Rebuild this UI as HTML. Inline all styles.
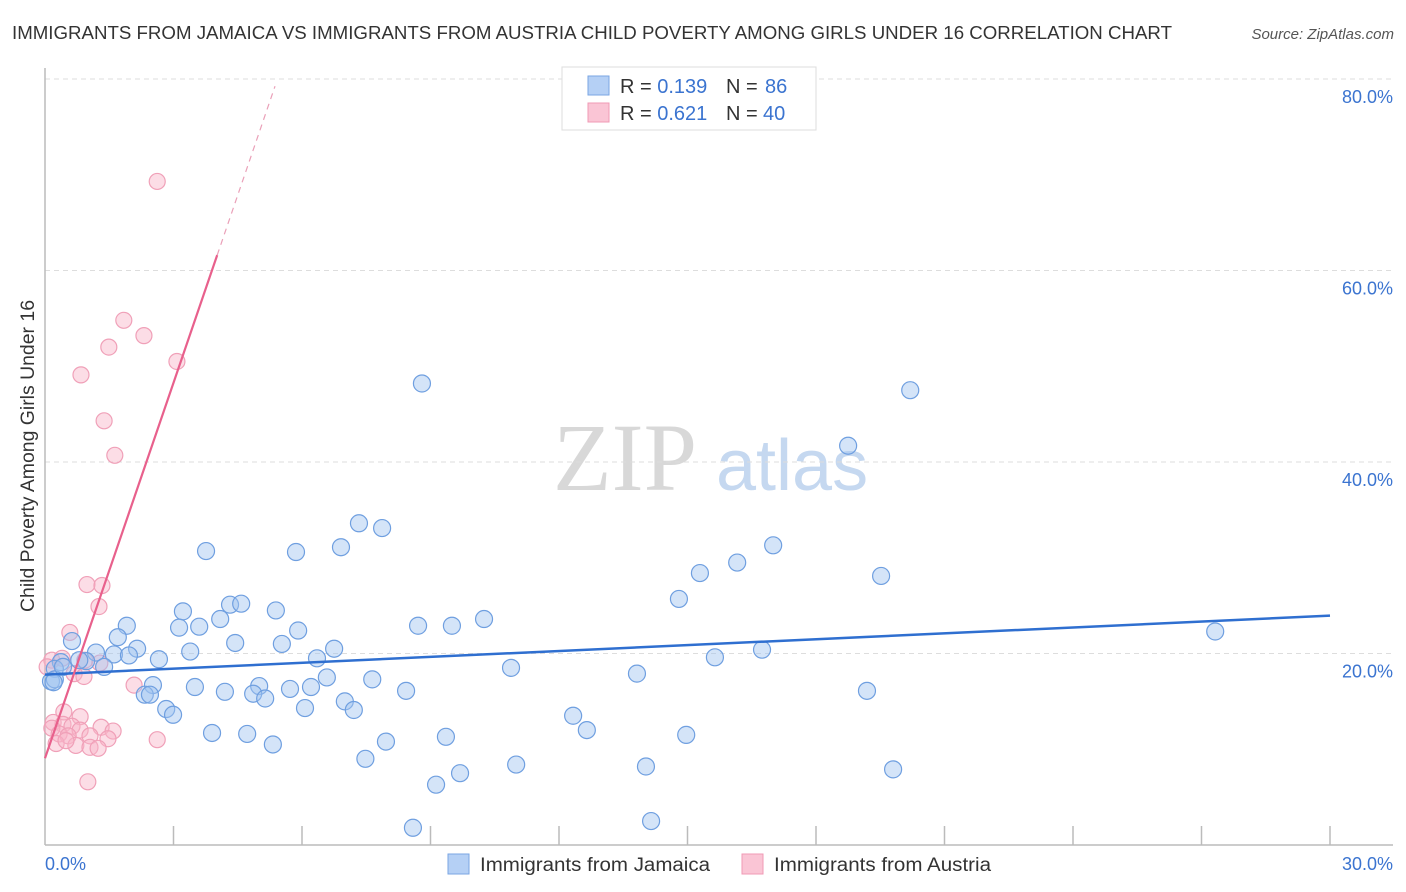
<!DOCTYPE html>
<html><head><meta charset="utf-8"><style>
body{margin:0;background:#fff;font-family:"Liberation Sans",sans-serif;}
svg{display:block}
</style></head><body>
<svg id="chart" width="1406" height="892" viewBox="0 0 1406 892" xmlns="http://www.w3.org/2000/svg">
<text x="12" y="39" font-size="18" fill="#333" textLength="1160" lengthAdjust="spacingAndGlyphs">IMMIGRANTS FROM JAMAICA VS IMMIGRANTS FROM AUSTRIA CHILD POVERTY AMONG GIRLS UNDER 16 CORRELATION CHART</text>
<text x="1394" y="39" font-size="15" fill="#555" font-style="italic" text-anchor="end">Source: ZipAtlas.com</text>
<g>
<text x="553" y="490" font-size="96" fill="#d8d8d8" font-family="Liberation Serif,serif">ZIP</text>
<text x="716" y="490" font-size="72" fill="#c5d8f0">atlas</text>
</g>
<g id="grid"></g>
<g id="axes"></g>
<g id="pts"></g>
<g id="lines"></g>
<text transform="translate(34,456) rotate(-90)" font-size="19" fill="#333" text-anchor="middle" textLength="312" lengthAdjust="spacingAndGlyphs">Child Poverty Among Girls Under 16</text>
<g>
<rect x="562" y="67" width="254" height="63" fill="#fff" stroke="#ddd"/>
<rect x="588" y="76" width="21" height="19" fill="#b5d0f5" stroke="#7aa6e3"/>
<rect x="588" y="103" width="21" height="19" fill="#fac5d5" stroke="#f09ab5"/>
<text x="620" y="93" font-size="20" fill="#333">R = <tspan fill="#3b74d0">0.139</tspan></text>
<text x="726" y="93" font-size="20" fill="#333">N = <tspan x="765" fill="#3b74d0">86</tspan></text>
<text x="620" y="120" font-size="20" fill="#333">R = <tspan fill="#3b74d0">0.621</tspan></text>
<text x="726" y="120" font-size="20" fill="#333">N = <tspan x="763" fill="#3b74d0">40</tspan></text>
</g>
<g>
<rect x="448" y="854" width="21" height="20" fill="#b5d0f5" stroke="#7aa6e3"/>
<text x="480" y="871" font-size="19" fill="#333" textLength="230" lengthAdjust="spacingAndGlyphs">Immigrants from Jamaica</text>
<rect x="742" y="854" width="21" height="20" fill="#fac5d5" stroke="#f09ab5"/>
<text x="774" y="871" font-size="19" fill="#333" textLength="217" lengthAdjust="spacingAndGlyphs">Immigrants from Austria</text>
</g>
</svg>
<script>
const yTicks=[20,40,60,80];
const xTickCount=10;
const jamX=[8.80,20.20,18.75,7.33,7.87,3.76,5.86,6.91,17.0,16.16,15.29,19.52,14.80,4.32,4.58,3.22,5.39,4.09,10.25,1.91,3.13,3.60,5.91,8.71,9.50,27.32,1.70,0.63,4.44,5.53,2.15,3.39,6.75,16.74,1.19,1.61,1.96,15.64,2.66,6.35,0.96,0.37,1.38,10.88,0.23,13.82,6.58,7.64,0.14,0.23,2.52,3.50,5.00,5.72,6.21,4.20,4.86,8.43,19.19,2.33,2.45,5.14,7.00,6.07,2.83,2.99,7.21,12.33,12.65,3.90,4.72,9.36,14.97,5.32,7.96,7.48,11.0,14.03,9.69,19.80,9.13,8.59,14.15,0.2,0.42,0.8];
const jamY=[48.2,47.5,41.7,33.6,33.1,30.7,30.6,31.1,31.3,29.5,28.4,28.1,25.7,25.1,25.2,24.4,24.5,23.6,23.6,22.9,22.7,22.8,22.4,22.9,22.9,22.3,21.7,21.3,21.1,21.0,20.5,20.2,20.5,20.4,20.1,19.9,19.8,19.6,19.4,19.5,19.2,19.1,18.6,18.5,18.4,17.9,17.5,17.3,17.1,17.3,16.7,16.5,16.6,16.3,16.5,16.0,15.8,16.1,16.1,15.7,15.7,15.3,15.0,14.3,14.2,13.6,14.1,13.5,12.0,11.7,11.6,11.3,11.5,10.5,10.8,9.0,8.4,8.2,7.5,7.9,6.3,1.8,2.5,17.0,18.6,19.3];
const ausX=[2.62,1.84,2.31,1.49,3.08,0.84,1.38,1.63,0.98,1.33,1.26,0.58,0.16,0.40,0.93,1.28,0.68,0.91,2.08,0.44,0.82,0.19,0.42,0.63,0.82,1.31,1.59,0.16,0.33,0.54,1.05,1.47,2.62,0.26,0.72,1.05,1.24,1.00,0.49,0.05];
const ausY=[69.3,54.8,53.2,52.0,50.5,49.1,44.3,40.7,27.2,27.1,24.9,22.2,19.3,19.5,19.3,19.0,17.9,17.6,16.7,13.9,13.4,12.8,12.6,12.4,12.0,12.3,11.9,12.2,11.6,11.4,11.4,11.1,11.0,10.6,10.4,10.2,10.1,6.6,10.9,18.6];
const jamTrend=[17.8,23.95];   // y at x=0 and x=30
const ausTrend=[9.06,13.07];   // intercept, slope
const ausSolidEnd=4.02, ausDashEnd=5.37;

const X0=45,X1=1330,Y0=845,YTOP=79;
const sx=v=>X0+(v/30)*(X1-X0);
const sy=v=>Y0-(v/80)*(Y0-YTOP);
const NS='http://www.w3.org/2000/svg';
function mk(tag,attrs,parent){const e=document.createElementNS(NS,tag);for(const k in attrs)e.setAttribute(k,attrs[k]);document.getElementById(parent).appendChild(e);return e;}

yTicks.forEach(t=>{
  const l=mk('line',{x1:X0,x2:1393,y1:sy(t),y2:sy(t),stroke:'#ddd','stroke-dasharray':'5,4'},'grid');
  
  
  const tx=mk('text',{x:1393,y:sy(t)+24,'font-size':18,fill:'#3b74d0','text-anchor':'end'},'grid');
  tx.textContent=t.toFixed(1)+'%';
  
  
});
const ax=mk('line',{x1:X0,x2:X0,y1:68,y2:Y0,stroke:'#bbb','stroke-width':1.5},'axes');


const bx=mk('line',{x1:X0,x2:1393,y1:Y0,y2:Y0,stroke:'#bbb','stroke-width':1.5},'axes');


for(let i=1;i<=xTickCount;i++){
  const t=mk('line',{x1:sx(i*3),x2:sx(i*3),y1:826,y2:Y0,stroke:'#bbb','stroke-width':1.5},'axes');
  
  
}
const xl=mk('text',{x:45,y:870,'font-size':18,fill:'#3b74d0'},'axes');xl.textContent='0.0%';


const xr=mk('text',{x:1393,y:870,'font-size':18,fill:'#3b74d0','text-anchor':'end'},'axes');xr.textContent='30.0%';



ausX.forEach((x,i)=>{
  const c=mk('circle',{cx:sx(x),cy:sy(ausY[i]),r:8,fill:'rgba(248,180,200,0.45)',stroke:'#f0a0b8','stroke-width':1.2},'pts');
  
  
});
jamX.forEach((x,i)=>{
  const c=mk('circle',{cx:sx(x),cy:sy(jamY[i]),r:8.5,fill:'rgba(160,195,240,0.45)',stroke:'#6f9fe0','stroke-width':1.2},'pts');
  
  
});
const jl=mk('line',{x1:sx(0),y1:sy(jamTrend[0]),x2:sx(30),y2:sy(jamTrend[1]),stroke:'#2f6fd0','stroke-width':2.5},'lines');


const al=mk('line',{x1:sx(0),y1:sy(ausTrend[0]),x2:sx(ausSolidEnd),y2:sy(ausTrend[0]+ausTrend[1]*ausSolidEnd),stroke:'#e8608c','stroke-width':2.2},'lines');


const ad=mk('line',{x1:sx(ausSolidEnd),y1:sy(ausTrend[0]+ausTrend[1]*ausSolidEnd),x2:sx(ausDashEnd),y2:sy(ausTrend[0]+ausTrend[1]*ausDashEnd),stroke:'#eaa0b8','stroke-width':1.2,'stroke-dasharray':'6,5'},'lines');


</script>
</body></html>
